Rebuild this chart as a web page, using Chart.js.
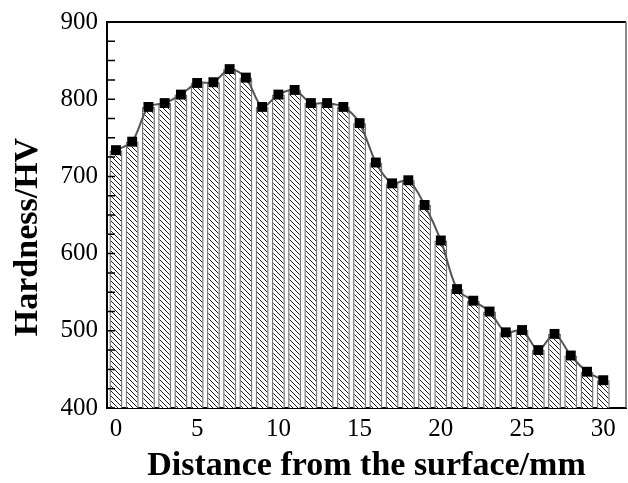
<!DOCTYPE html>
<html>
<head>
<meta charset="utf-8">
<script src="https://cdn.jsdelivr.net/npm/chart.js@4.4.1/dist/chart.umd.min.js"></script>
<style>
  body { margin: 0; background: #fff; }
  #wrap { width: 628px; height: 483px; }
</style>
</head>
<body>
<div id="wrap"><canvas id="chart"></canvas></div>
<script>
// datos
var distance = [0, 1, 2, 3, 4, 5, 6, 7, 8, 9, 10, 11, 12, 13, 14, 15, 16, 17, 18, 19, 20, 21, 22, 23, 24, 25, 26, 27, 28, 29, 30];
var hardness = [734, 745, 790, 795, 806, 821, 822, 839, 828, 790, 806, 812, 795, 795, 790, 769, 718, 691, 695, 663, 617, 554, 539, 525, 498, 501, 475, 496, 468, 447, 436];
var xTicks = [0, 5, 10, 15, 20, 25, 30];
var yMinor = [400, 425, 450, 475, 500, 525, 550, 575, 600, 625, 650, 675, 700, 725, 750, 775, 800, 825, 850, 875, 900];

var serif = "'Liberation Serif', 'Times New Roman', serif";

var ctx = document.getElementById("chart");
var ctx2d = ctx.getContext("2d");

// patron de rayado diagonal para las barras
function makeHatch() {
  let n = 5;
  let c = document.createElement("canvas");
  c.width = n; c.height = n;
  let g = c.getContext("2d");
  g.fillStyle = "#fff";
  g.fillRect(0, 0, n, n);
  g.strokeStyle = "#222";
  g.lineWidth = 1;
  g.beginPath();
  g.moveTo(0, 0); g.lineTo(n, n);
  g.moveTo(-1, n - 1); g.lineTo(1, n + 1);
  g.moveTo(n - 1, -1); g.lineTo(n + 1, 1);
  g.stroke();
  return ctx2d.createPattern(c, "repeat");
}

var points = distance.map((d, i) => ({x: d, y: hardness[i]}));

// marco superior/derecho, ticks internos y titulo Y
var framePlugin = {
  id: "frame",
  afterDraw(chart) {
    let a = chart.chartArea;
    let c = chart.ctx;
    let ys = chart.scales.y;
    c.save();
    c.strokeStyle = "#000";
    c.lineWidth = 2;
    c.beginPath();
    c.moveTo(a.left, a.top); c.lineTo(a.right, a.top);
    c.stroke();
    c.strokeStyle = "#666";
    c.lineWidth = 1.5;
    c.beginPath();
    c.moveTo(a.right, a.top); c.lineTo(a.right, a.bottom);
    c.stroke();
    c.strokeStyle = "#000";
    c.lineWidth = 1.5;
    c.beginPath();
    for (const v of yMinor) {
      let py = ys.getPixelForValue(v);
      c.moveTo(a.left, py); c.lineTo(a.left + 8, py);
    }
    c.stroke();
    c.fillStyle = "#000";
    c.font = "bold 34px " + serif;
    c.textAlign = "center";
    c.textBaseline = "middle";
    c.translate(28, 237);
    c.rotate(-Math.PI / 2);
    c.fillText("Hardness/HV", 0, 0);
    c.restore();
  }
};

var myChart = new Chart(ctx, {
  type: "bar",
  data: {
    datasets: [{
      type: "line",
      data: points,
      borderColor: "#555",
      borderWidth: 2,
      tension: 0.3,
      pointStyle: "rect",
      pointRadius: 7,
      pointBackgroundColor: "#000",
      pointBorderColor: "#000",
      pointBorderWidth: 0,
      order: 0
    }, {
      type: "bar",
      data: points,
      backgroundColor: makeHatch(),
      borderColor: "#777",
      borderWidth: 1.5,
      barPercentage: 0.8,
      categoryPercentage: 1,
      order: 1
    }]
  },
  options: {
    responsive: true,
    maintainAspectRatio: false,
    animation: false,
    layout: { autoPadding: false, padding: { top: 22, right: 2, left: 0, bottom: 0 } },
    plugins: { legend: { display: false }, tooltip: { enabled: false } },
    scales: {
      x: {
        type: "linear",
        offset: false,
        min: -0.55,
        max: 31.4,
        afterBuildTicks: (s) => { s.ticks = xTicks.map(v => ({value: v})); },
        afterFit: (s) => { s.height = 75; s.paddingLeft = 0; s.paddingRight = 0; },
        grid: { display: false, drawTicks: false },
        border: { color: "#000", width: 2 },
        ticks: { color: "#000", padding: 6, font: { family: serif, size: 25 } },
        title: {
          display: true,
          text: "Distance from the surface/mm",
          color: "#000",
          padding: { top: 0, bottom: 0 },
          font: { family: serif, size: 34, weight: "bold", lineHeight: 1 }
        }
      },
      y: {
        min: 400,
        max: 900,
        afterFit: (s) => { s.width = 107; s.paddingTop = 0; s.paddingBottom = 0; },
        grid: { display: false, drawTicks: false },
        border: { color: "#000", width: 2 },
        ticks: { stepSize: 100, color: "#000", padding: 9, font: { family: serif, size: 25 } }
      }
    }
  },
  plugins: [framePlugin]
});
</script>
</body>
</html>
